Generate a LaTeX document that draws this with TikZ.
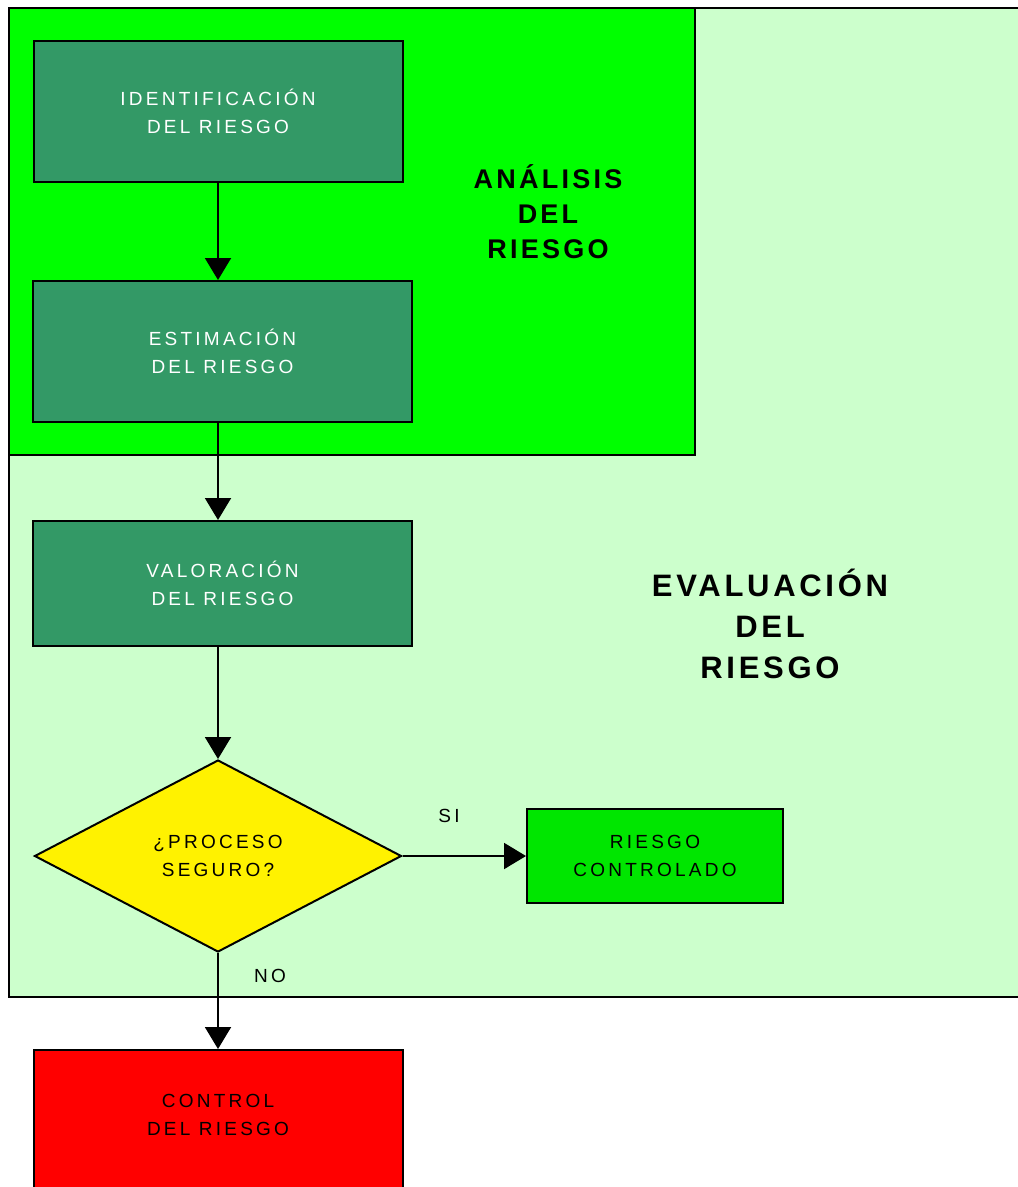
\documentclass[tikz,border=0pt]{standalone}
\usepackage{fontspec}
\setmainfont{Liberation Sans}
\newfontfamily\boxfont[LetterSpace=17]{Liberation Sans}
\newfontfamily\headfont[LetterSpace=12]{Liberation Sans}
\usetikzlibrary{arrows.meta,shapes.geometric}
\definecolor{paleg}{HTML}{CCFFCC}
\definecolor{brightg}{HTML}{00FF00}
\definecolor{darkg}{HTML}{339966}
\definecolor{okg}{HTML}{00E600}
\tikzset{
  box/.style={draw=black, line width=2pt, fill=darkg, text=white, align=center,
    font=\boxfont\fontsize{19}{28}\selectfont, inner sep=0pt},
  lbl/.style={font=\boxfont\fontsize{19}{20}\selectfont},
  head/.style={font=\headfont\bfseries\fontsize{27}{35}\selectfont, align=center},
  flow/.style={line width=2pt, -{Triangle[width=26pt,length=22pt]}}
}
\begin{document}
\begin{tikzpicture}[x=1pt, y=-1pt]
%
\clip (0,0) rectangle (1018,1187);
\fill[white] (0,0) rectangle (1018,1187);
%
\draw[line width=2pt, fill=paleg] (9,8) rectangle (1040,997);
\draw[line width=2pt, fill=brightg] (9,8) rectangle (695,455);
%
\node[head] (ana) at (548,212) {ANÁLISIS\\DEL\\RIESGO};
\node[head, font=\headfont\bfseries\fontsize{31}{41}\selectfont] (eva) at (770,624) {EVALUACIÓN\\DEL\\RIESGO};
%
\node[box, minimum width=369pt, minimum height=141pt] (iden) at (218,111.5) {IDENTIFICACIÓN\\DEL RIESGO};
\node[box, minimum width=379pt, minimum height=141pt] (esti) at (222.5,351.5) {ESTIMACIÓN\\DEL RIESGO};
\node[box, minimum width=379pt, minimum height=125pt] (valo) at (222.5,583.5) {VALORACIÓN\\DEL RIESGO};
\node[box, shape=diamond, fill=yellow, text=black, aspect=1.9,
  minimum width=367pt, minimum height=192pt] (seg) at (218,856) {¿PROCESO\\SEGURO?};
\node[box, fill=okg, text=black, minimum width=256pt, minimum height=94pt] (ok) at (655,856) {RIESGO\\CONTROLADO};
\node[box, fill=red, text=black, minimum width=369pt, minimum height=170pt, anchor=north] (ctrl) at (218,1049) {};
\node[box, draw=none, fill=none, text=black] (ctrlt) at ([yshift=-66pt]ctrl.north) {CONTROL\\DEL RIESGO};
%
\draw[flow] (iden.south) -- (iden.south |- esti.north);
\draw[flow] (iden.south |- esti.south) -- (iden.south |- valo.north);
\draw[flow] (iden.south |- valo.south) -- (seg.north);
\draw[flow] (seg.east) -- (ok.west);
\draw[flow] (seg.south) -- (ctrl.north);
%
\node[lbl] (si) at (449,816) {SI};
\node[lbl] (no) at (270,976) {NO};
%
\end{tikzpicture}
\end{document}
